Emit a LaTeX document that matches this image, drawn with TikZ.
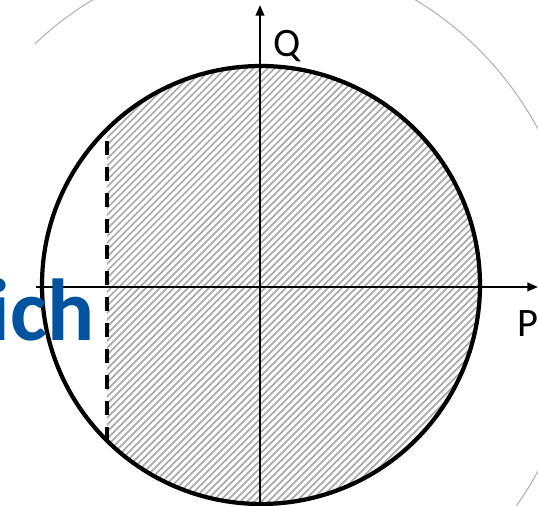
\documentclass[tikz,border=0pt]{standalone}
\usepackage{fontspec}
\setmainfont{Carlito}
\usepackage{xcolor}
\usepackage{tikz}
\usetikzlibrary{arrows.meta,calc}

\definecolor{headblue}{RGB}{0,84,159}

\tikzset{
  axis/.style={line width=0.6pt,-{Triangle[length=3pt,width=2.4pt]}},
  rim/.style={line width=1.2pt},
  hatch/.style={black!33,line width=0.5pt},
  limitline/.style={line width=1.15pt,dash pattern=on 4pt off 3.4pt,dash phase=4pt},
  axislabel/.style={inner sep=0pt,font=\fontsize{11.5}{12}\selectfont}
}

\begin{document}
\begin{tikzpicture}[x=0.01cm,y=-0.01cm]
  \clip (0,0) rectangle (538,506);
  \useasboundingbox (0,0) rectangle (538,506);
  \coordinate (M) at (261,285);
  \coordinate (O) at (260,287);
  % faint outline from the slide behind
  \begin{scope}
    \clip (35,0) rectangle (538,506);
    \draw[black!30,line width=0.3pt] (254,300) ellipse [x radius=327,y radius=345];
  \end{scope}
  % hatched part of the disc, right of the limit
  \begin{scope}
    \clip (M) circle [radius=219];
    \clip (107,0) rectangle (538,506);
    \foreach \k in {0,...,150}
      \draw[hatch] ({\k*7-520},520) -- ++(560,-560);
  \end{scope}
  % limit line
  \coordinate (limtop) at (107,129);
  \coordinate (limbot) at (107,443);
  \draw[limitline] (limtop) -- (limbot);
  % circle
  \draw[rim] (M) circle [radius=219];
  % axes
  \coordinate (pstart) at (36,287);
  \coordinate (pend) at (538,287);
  \coordinate (qstart) at (260,504);
  \coordinate (qend) at (260,5);
  \draw[axis] (pstart) -- (pend);
  \draw[axis] (qstart) -- (qend);
  \node[axislabel,anchor=base west] (qlabel) at (273,57) {Q};
  \node[axislabel,anchor=base west] (plabel) at (517,337) {P};
  % title fragment on the left
  \node[anchor=base east,inner sep=0pt,text=headblue,
        font=\fontsize{25}{25}\selectfont\bfseries] (title) at (95,341) {ich};
\end{tikzpicture}
\end{document}
